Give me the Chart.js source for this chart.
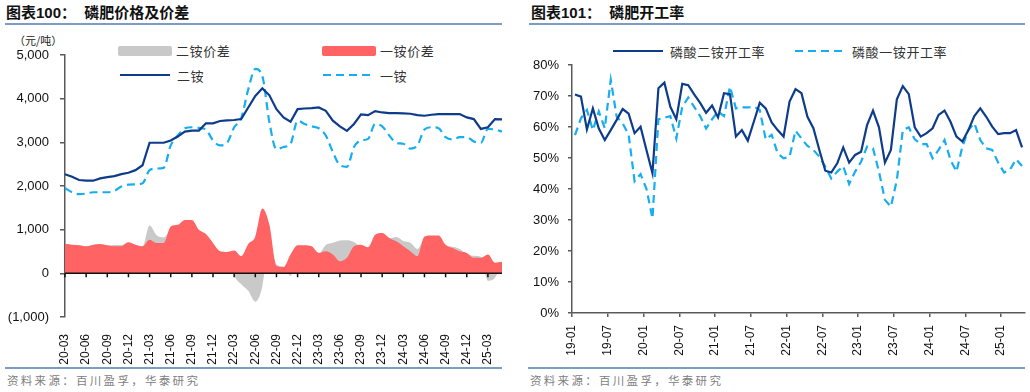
<!DOCTYPE html>
<html>
<head>
<meta charset="utf-8">
<script src="https://cdn.jsdelivr.net/npm/chart.js@4.4.1/dist/chart.umd.min.js"></script>
<style>
  body { margin: 0; width: 1030px; height: 392px; background: #fff; position: relative; overflow: hidden;
         font-family: "Liberation Sans", Arial, "Noto Sans CJK SC", sans-serif; }
  .abs { position: absolute; }
  .title { top: 3px; font: bold 15px "Liberation Sans", "Noto Sans CJK SC", sans-serif; color: #111; line-height: 20px; white-space: pre; }
  .rule { height: 2px; background: #7c9cc6; }
  .src { top: 371px; font: 11.5px "Noto Sans CJK SC", sans-serif; color: #808080; letter-spacing: 2.3px; line-height: 18px; }
  .leg { font: 13px "Noto Sans CJK SC", sans-serif; color: #333; line-height: 18px; letter-spacing: 0.6px; white-space: nowrap; }
  canvas { position: absolute; top: 0; }
</style>
</head>
<body>
<div class="abs title" style="left:6px">图表100：  磷肥价格及价差</div>
<div class="abs rule" style="left:5px; top:23px; width:497px"></div>
<div class="abs title" style="left:531px">图表101：  磷肥开工率</div>
<div class="abs rule" style="left:529px; top:23px; width:496px"></div>

<div class="abs" style="left:14px; top:32px; font:11px 'Noto Sans CJK SC',sans-serif; color:#222">（元/吨）</div>

<div id="legPrice"></div>
<div id="legRate"></div>

<canvas id="priceChart" width="515" height="368" style="left:0"></canvas>
<canvas id="rateChart" width="515" height="368" style="left:515px"></canvas>

<div class="abs rule" style="left:5px; top:367px; width:497px; height:1.5px"></div>
<div class="abs rule" style="left:528px; top:367px; width:497px; height:1.5px"></div>
<div class="abs src" style="left:7px">资料来源：百川盈孚，华泰研究</div>
<div class="abs src" style="left:530px">资料来源：百川盈孚，华泰研究</div>

<script>
// ---- 图表100 磷肥价格及价差 (月度, 20-03 ~ 25-05) ----
const priceMonths = [
  '20-03','20-04','20-05','20-06','20-07','20-08','20-09','20-10','20-11','20-12',
  '21-01','21-02','21-03','21-04','21-05','21-06','21-07','21-08','21-09','21-10','21-11','21-12',
  '22-01','22-02','22-03','22-04','22-05','22-06','22-07','22-08','22-09','22-10','22-11','22-12',
  '23-01','23-02','23-03','23-04','23-05','23-06','23-07','23-08','23-09','23-10','23-11','23-12',
  '24-01','24-02','24-03','24-04','24-05','24-06','24-07','24-08','24-09','24-10','24-11','24-12',
  '25-01','25-02','25-03','25-04','25-05'
];
const priceTickEvery = 3;

const dapPrice = [
  2270,2212,2137,2122,2122,2175,2205,2227,2273,2303,
  2363,2476,2990,2990,2990,3043,3133,3247,3270,3270,
  3435,3435,3488,3503,3511,3533,3798,4062,4236,4077,
  3760,3571,3473,3760,3775,3783,3798,3722,3496,3367,
  3262,3420,3639,3624,3715,3684,3669,3669,3662,3654,
  3624,3609,3631,3647,3647,3647,3647,3571,3533,3307,
  3345,3533,3526
];
const mapPrice = [
  1948,1857,1812,1827,1857,1857,1857,1888,1986,2031,
  2038,2061,2363,2401,2416,2929,3156,3322,3345,3330,
  3292,3043,2929,2990,3345,3549,4213,4680,4515,3458,
  2839,2892,2967,3496,3420,3367,3322,3156,2778,2476,
  2439,2892,3043,3080,3420,3367,3156,2990,2967,2854,
  2929,3292,3345,3322,3118,3065,3118,3118,3020,2990,
  3307,3292,3247
];
const dapSpread = [
  670,650,640,615,650,665,640,650,650,700,650,610,
  1095,870,823,1000,1050,1150,1150,950,850,680,500,480,
  -50,-250,-400,-650,-300,700,200,150,-60,500,550,550,
  450,650,700,750,760,720,600,560,800,850,800,830,
  740,700,560,800,830,830,640,610,560,450,400,380,
  -170,-100,230
];
const mapSpread = [
  680,657,642,619,657,672,642,619,619,710,
  657,619,770,695,695,1072,1110,1223,1223,997,
  898,695,506,491,521,393,672,846,1487,1110,
  166,143,430,642,642,619,468,506,430,279,
  355,619,657,596,883,921,808,732,619,506,
  393,846,868,868,657,581,506,468,355,355,
  430,242,264
];

// ---- 图表101 磷肥开工率 (月度, 19-01 ~ 25-04) ----
const rateTicks = ['19-01','19-07','20-01','20-07','21-01','21-07','22-01','22-07','23-01','23-07','24-01','24-07','25-01'];
const rateTickEvery = 6;
const dapRate = [
  70.5,69.8,59.2,66.0,59.5,55.8,59.0,62.3,65.8,64.3,
  58.0,60.1,52.5,45.1,72.5,74.3,66.5,62.5,73.9,73.5,
  70.5,67.8,64.6,66.9,63.1,70.9,70.6,56.9,59.0,55.6,
  61.7,67.8,66.0,61.5,59.0,56.9,68.2,72.2,70.9,63.3,
  59.6,52.6,45.9,45.3,48.3,53.4,48.5,51.0,52.0,60.6,
  65.3,59.9,48.5,52.6,68.9,73.2,70.6,59.9,56.9,58.0,
  59.6,63.9,65.3,61.7,56.9,55.3,59.0,63.5,66.0,63.3,
  60.1,57.7,58.0,58.0,59.0,53.4
];
const mapRate = [
  57.4,62.8,65.5,59.0,65.0,59.6,75.2,63.3,61.2,57.5,
  42.5,44.8,40.0,30.5,62.5,63.0,63.5,56.3,66.5,69.5,
  66.5,63.5,59.5,62.5,65.0,63.5,73.0,66.0,66.3,66.3,
  66.6,65.5,56.0,57.5,51.5,49.9,50.4,58.8,56.3,53.9,
  52.6,50.4,47.2,43.4,45.6,47.4,41.6,45.6,48.8,53.7,
  53.1,45.6,36.5,34.3,42.9,59.0,59.9,56.0,54.5,54.5,
  49.9,52.6,55.8,49.4,45.6,53.7,59.0,61.2,55.8,53.1,
  52.6,48.5,45.3,46.3,49.6,47.4
];

const NAVY = '#0d3c8a';
const SKY = '#16aef0';
const RED = '#ff6363';
const GREY = '#c9c9c9';
const AXIS = '#5a5a5a';
const tickFont = { family: '"Liberation Sans", Arial, sans-serif', size: 13 };
const xFont = { family: '"Liberation Sans", Arial, sans-serif', size: 12 };

// 简单 HTML 图例
function legendItem(left, top, kind, color, text) {
  let sample;
  if (kind === 'box') {
    sample = `<div class="abs" style="left:0;top:4px;width:54px;height:10px;border-radius:2px;background:${color}"></div>`;
  } else {
    const dash = kind === 'dash' ? 'stroke-dasharray="8 5"' : '';
    sample = `<svg class="abs" style="left:0;top:3px" width="52" height="10"><line x1="1" y1="5" x2="51" y2="5" stroke="${color}" stroke-width="2.2" ${dash}/></svg>`;
  }
  return `<div class="abs leg" style="left:${left}px;top:${top}px;height:18px;width:160px">${sample}<span class="abs" style="left:58px;top:0">${text}</span></div>`;
}
document.getElementById('legPrice').innerHTML =
  legendItem(118, 42, 'box', GREY, '二铵价差') +
  legendItem(322, 42, 'box', RED, '一铵价差') +
  legendItem(119, 67, 'line', NAVY, '二铵') +
  legendItem(322, 67, 'dash', SKY, '一铵');
document.getElementById('legRate').innerHTML =
  legendItem(612, 43, 'line', NAVY, '磷酸二铵开工率') +
  legendItem(794, 43, 'dash', SKY, '磷酸一铵开工率');

// 零线和 x 轴刻度（画在 0 的位置）
const zeroLine = {
  id: 'zeroLine',
  afterDatasetsDraw(chart) {
    const { ctx, chartArea, scales: { x, y } } = chart;
    const y0 = y.getPixelForValue(0);
    ctx.save();
    ctx.strokeStyle = '#111';
    ctx.lineWidth = 1.5;
    ctx.beginPath();
    ctx.moveTo(chartArea.left, y0);
    ctx.lineTo(chartArea.right, y0);
    x.ticks.forEach(t => {
      const px = x.getPixelForValue(t.value);
      ctx.moveTo(px, y0);
      ctx.lineTo(px, y0 + 4);
    });
    ctx.stroke();
    ctx.restore();
  }
};

new Chart(document.getElementById('priceChart'), {
  type: 'line',
  data: {
    labels: priceMonths,
    datasets: [
      { label: '二铵', data: dapPrice, borderColor: NAVY, borderWidth: 2.2, pointRadius: 0, tension: 0, order: 0 },
      { label: '一铵', data: mapPrice, borderColor: SKY, borderWidth: 2.2, borderDash: [8, 5], pointRadius: 0,
        cubicInterpolationMode: 'monotone', order: 1 },
      { label: '一铵价差', data: mapSpread, borderWidth: 0, backgroundColor: RED, fill: 'origin', pointRadius: 0,
        cubicInterpolationMode: 'monotone', order: 2 },
      { label: '二铵价差', data: dapSpread, borderWidth: 0, backgroundColor: GREY, fill: 'origin', pointRadius: 0,
        cubicInterpolationMode: 'monotone', order: 3 }
    ]
  },
  options: {
    responsive: false,
    animation: false,
    devicePixelRatio: 1,
    layout: { padding: { top: 55, right: 13, left: 0, bottom: 0 } },
    plugins: { legend: { display: false }, tooltip: { enabled: false } },
    scales: {
      x: {
        grid: { display: false },
        border: { display: false },
        afterBuildTicks: s => { s.ticks = s.ticks.filter(t => t.value % priceTickEvery === 0); },
        afterFit: s => { s.height = 51; },
        ticks: { autoSkip: false, minRotation: 90, maxRotation: 90, padding: 9, color: '#111', font: xFont }
      },
      y: {
        min: -1000,
        max: 5000,
        afterFit: s => { s.width = 65; },
        border: { display: true, color: AXIS, width: 1.5 },
        grid: { drawOnChartArea: false, drawTicks: true, tickLength: 5, color: AXIS, lineWidth: 1.5 },
        ticks: {
          stepSize: 1000, padding: 11, color: '#111', font: tickFont,
          callback: v => v < 0 ? '(' + Math.abs(v).toLocaleString('en-US') + ')' : v.toLocaleString('en-US')
        }
      }
    }
  },
  plugins: [zeroLine]
});

new Chart(document.getElementById('rateChart'), {
  type: 'line',
  data: {
    datasets: [
      { label: '磷酸二铵开工率', data: dapRate.map((v, i) => ({ x: i + 0.5, y: v })),
        borderColor: NAVY, borderWidth: 2.2, pointRadius: 0, tension: 0 },
      { label: '磷酸一铵开工率', data: mapRate.map((v, i) => ({ x: i + 0.5, y: v })),
        borderColor: SKY, borderWidth: 2.2, borderDash: [8, 5], pointRadius: 0, tension: 0 }
    ]
  },
  options: {
    responsive: false,
    animation: false,
    devicePixelRatio: 1,
    layout: { padding: { top: 65, right: 5, left: 0, bottom: 0 } },
    plugins: { legend: { display: false }, tooltip: { enabled: false } },
    scales: {
      x: {
        type: 'linear',
        min: 0,
        max: 76,
        afterBuildTicks: s => { s.ticks = s.ticks.filter(t => t.value % rateTickEvery === 0); },
        afterFit: s => { s.height = 55; },
        border: { display: true, color: AXIS, width: 1.5 },
        grid: { drawOnChartArea: false, drawTicks: true, tickLength: 4, color: AXIS, lineWidth: 1.5 },
        ticks: {
          stepSize: rateTickEvery, autoSkip: false, minRotation: 90, maxRotation: 90, padding: 8,
          color: '#111', font: xFont,
          callback: v => rateTicks[v / rateTickEvery]
        }
      },
      y: {
        min: 0,
        max: 80,
        afterFit: s => { s.width = 57; },
        border: { display: true, color: AXIS, width: 1.5 },
        grid: { drawOnChartArea: false, drawTicks: true, tickLength: 4, color: AXIS, lineWidth: 1.5 },
        ticks: { stepSize: 10, padding: 9, color: '#111', font: tickFont, callback: v => v + '%' }
      }
    }
  }
});
</script>
</body>
</html>
